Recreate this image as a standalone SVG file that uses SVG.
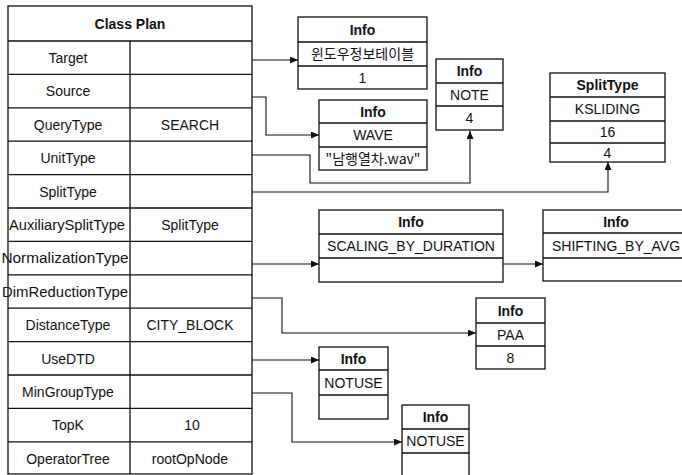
<svg xmlns="http://www.w3.org/2000/svg" width="682" height="475" viewBox="0 0 682 475">
<style>
text{font-family:"Liberation Sans","Noto Sans CJK KR",Arial,sans-serif;font-size:14px;fill:#111;text-anchor:middle}
.b{font-weight:bold}
.k{font-family:"Noto Sans CJK KR","Liberation Sans",sans-serif;font-size:14px}
.box{fill:#fff;stroke:#111;stroke-width:1.3}
.ln{stroke:#111;stroke-width:1.3;fill:none}
.c{stroke:#111;stroke-width:1.1;fill:none;marker-end:url(#ah)}
</style>
<defs>
<marker id="ah" markerUnits="userSpaceOnUse" markerWidth="9" markerHeight="8" refX="8" refY="3.5" orient="auto">
<path d="M0,0 L8,3.5 L0,7 z" fill="#111"/>
</marker>
</defs>
<rect width="682" height="475" fill="#fff"/>

<g id="class-plan">
<rect class="box" x="8" y="6" width="244" height="468"/>
<path class="ln" d="M8,41H252M8,74.4H252M8,107.8H252M8,141.2H252M8,174.6H252M8,208H252M8,241.4H252M8,274.8H252M8,308.2H252M8,341.6H252M8,375H252M8,408.4H252M8,441.8H252M130,41V474"/>
<text class="b" x="130" y="29">Class Plan</text>
<text x="68" y="63">Target</text>
<text x="68" y="96">Source</text>
<text x="68" y="129.5">QueryType</text>
<text x="190" y="129.5">SEARCH</text>
<text x="68" y="163">UnitType</text>
<text x="68" y="196.5">SplitType</text>
<text x="67" y="230" textLength="116" lengthAdjust="spacingAndGlyphs">AuxiliarySplitType</text>
<text x="190" y="230">SplitType</text>
<text x="65" y="263" textLength="127" lengthAdjust="spacingAndGlyphs">NormalizationType</text>
<text x="65" y="296.5" textLength="126" lengthAdjust="spacingAndGlyphs">DimReductionType</text>
<text x="68" y="330">DistanceType</text>
<text x="190" y="330">CITY_BLOCK</text>
<text x="68" y="363.5">UseDTD</text>
<text x="68" y="397">MinGroupType</text>
<text x="68" y="430">TopK</text>
<text x="192" y="430">10</text>
<text x="68" y="463.5">OperatorTree</text>
<text x="190" y="463.5">rootOpNode</text>
</g>

<g id="info-target">
<rect class="box" x="298" y="17" width="129" height="72"/>
<path class="ln" d="M298,42H427M298,66H427"/>
<text class="b" x="362.5" y="34.5">Info</text>
<text class="k" x="362.5" y="59">윈도우정보테이블</text>
<text x="362.5" y="82.5">1</text>
</g>

<g id="info-note">
<rect class="box" x="436" y="59" width="67" height="71"/>
<path class="ln" d="M436,83H503M436,106H503"/>
<text class="b" x="469.5" y="76">Info</text>
<text x="469.5" y="99.5">NOTE</text>
<text x="469.5" y="123">4</text>
</g>

<g id="info-wave">
<rect class="box" x="319" y="100" width="108" height="70"/>
<path class="ln" d="M319,123H427M319,147H427"/>
<text class="b" x="373" y="116.5">Info</text>
<text x="373" y="140">WAVE</text>
<text class="k" x="373" y="163.5">"남행열차.wav"</text>
</g>

<g id="splittype">
<rect class="box" x="550" y="73" width="115" height="89"/>
<path class="ln" d="M550,97H665M550,121H665M550,143H665"/>
<text class="b" x="607.5" y="90">SplitType</text>
<text x="607.5" y="114">KSLIDING</text>
<text x="607.5" y="137">16</text>
<text x="607.5" y="158">4</text>
</g>

<g id="info-scaling">
<rect class="box" x="319" y="210" width="184" height="72"/>
<path class="ln" d="M319,234H503M319,258H503"/>
<text class="b" x="411" y="227">Info</text>
<text x="411" y="251">SCALING_BY_DURATION</text>
</g>

<g id="info-shifting">
<rect class="box" x="543" y="210" width="146" height="71"/>
<path class="ln" d="M543,233H689M543,258H689"/>
<text class="b" x="616" y="227">Info</text>
<text x="616" y="250.5">SHIFTING_BY_AVG</text>
</g>

<g id="info-paa">
<rect class="box" x="476" y="298" width="69" height="71"/>
<path class="ln" d="M476,323H545M476,346H545"/>
<text class="b" x="510.5" y="315.5">Info</text>
<text x="510.5" y="339.5">PAA</text>
<text x="510.5" y="362.5">8</text>
</g>

<g id="info-notuse-dtd">
<rect class="box" x="319" y="347" width="69" height="72"/>
<path class="ln" d="M319,370H388M319,395H388"/>
<text class="b" x="353.5" y="363.5">Info</text>
<text x="353.5" y="387.5">NOTUSE</text>
</g>

<g id="info-notuse-mingroup">
<rect class="box" x="402" y="405" width="67" height="80"/>
<path class="ln" d="M402,429H469M402,453H469"/>
<text class="b" x="435.5" y="422">Info</text>
<text x="435.5" y="446">NOTUSE</text>
</g>

<g id="connectors">
<path class="c" d="M252,60H298"/>
<path class="c" d="M252,97H266V135H319"/>
<path class="c" d="M252,155H310V183H470V131"/>
<path class="c" d="M252,192H608V162"/>
<path class="c" d="M252,264H319"/>
<path class="c" d="M503,264H543"/>
<path class="c" d="M252,298H282V333H476"/>
<path class="c" d="M252,360H319"/>
<path class="c" d="M252,393H292V442H402"/>
</g>
</svg>
